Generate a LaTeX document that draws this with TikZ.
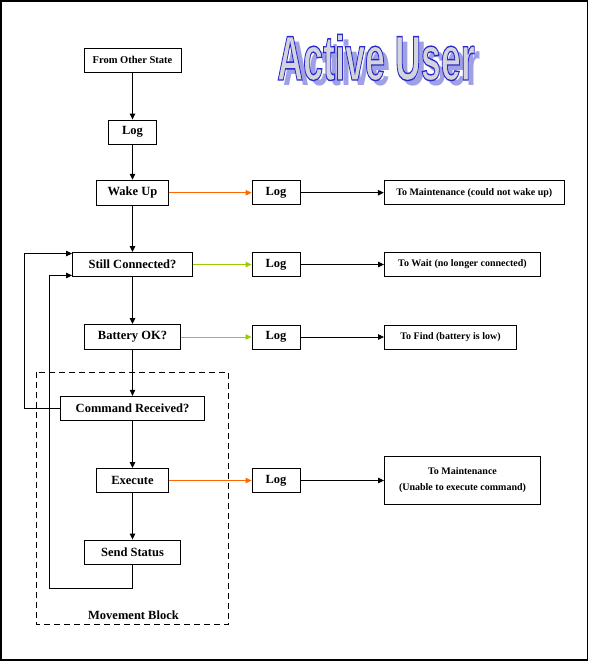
\documentclass[tikz,border=0pt]{standalone}
\usepackage{fontspec}
\setmainfont{Liberation Serif}
\newfontfamily\titlefont{Liberation Sans}
\usetikzlibrary{arrows.meta}
\definecolor{orng}{HTML}{FF6600}
\definecolor{grn}{HTML}{99CC00}
\definecolor{ttlfill}{HTML}{D4D4DC}
\definecolor{ttlshadow}{HTML}{A0A0E4}
\newcommand\ttltext{\titlefont\bfseries\fontsize{63}{63}\selectfont\scalebox{0.57}[1]{Active User}}
\newcommand\ttloutlined{\special{pdf:code q 2 Tr 1.4 w 0.17 0.17 0.8 RG}\ttltext\special{pdf:code Q}}
\begin{document}
\begin{tikzpicture}[x=1pt,y=-1pt,
  box/.style={draw, line width=0.9pt, inner sep=0pt, font=\fontsize{12.5}{14}\selectfont\bfseries},
  sbox/.style={box, font=\fontsize{10}{16}\selectfont\bfseries},
  wh/.style 2 args={minimum width=#1, minimum height=#2},
  arr/.style={line width=0.9pt, -{Triangle[length=6pt,width=5.5pt]}},
  ttl/.style={inner sep=0pt}]
\useasboundingbox (0,0) rectangle (589,662);
\draw[line width=1.2pt] (1,1) rectangle (587.5,660);
\draw[line width=2pt] (1,0) -- (1,661);

% title
\node[ttl, text=ttlshadow] (tshadow) at (382,62.5) {\ttltext};
\node[ttl, text=ttlfill] (title) at (376,57.5) {\ttloutlined};

% movement block
\draw[line width=0.9pt, dash pattern=on 6pt off 4pt] (36,372) rectangle (228.7,624);
\node[inner sep=0pt, font=\fontsize{12.5}{14}\selectfont\bfseries] (mblock) at (133.5,615.5) {Movement Block};

% main column
\node[sbox, wh={97pt}{24pt}, font=\fontsize{10.5}{12}\selectfont\bfseries] (from) at (132.5,60) {From Other State};
\node[box, wh={48pt}{24pt}] (log1) at (132.5,132) {Log};
\node[box, wh={72pt}{25pt}] (wake) at (132.5,192.7) {Wake Up};
\node[box, wh={120pt}{24pt}] (still) at (132.5,264.5) {Still Connected?};
\node[box, wh={96pt}{25pt}] (batt) at (132.5,337) {Battery OK?};
\node[box, wh={144pt}{24pt}] (cmd) at (132.5,408.3) {Command Received?};
\node[box, wh={72pt}{24pt}] (exec) at (132.5,480.5) {Execute};
\node[box, wh={96pt}{24pt}] (send) at (132.5,552) {Send Status};

% log column
\node[box, wh={48pt}{24pt}] (logw) at (276,192.7) {Log};
\node[box, wh={48pt}{24pt}] (logs) at (276,264.5) {Log};
\node[box, wh={48pt}{24pt}] (logb) at (276,337) {Log};
\node[box, wh={48pt}{24pt}] (loge) at (276,480.5) {Log};

% targets
\node[sbox, wh={180pt}{24pt}] (tomw) at (474.3,192.7) {To Maintenance (could not wake up)};
\node[sbox, wh={156pt}{23.5pt}] (towait) at (462.5,264.5) {To Wait (no longer connected)};
\node[sbox, wh={132pt}{24pt}] (tofind) at (450.5,337) {To Find (battery is low)};
\node[sbox, wh={156pt}{48pt}, align=center] (tome) at (462.5,480.5) {To Maintenance\\(Unable to execute command)};

% vertical flow
\draw[arr] (from) -- (log1);
\draw[arr] (log1) -- (wake);
\draw[arr] (wake) -- (still);
\draw[arr] (still) -- (batt);
\draw[arr] (batt) -- (cmd);
\draw[arr] (cmd) -- (exec);
\draw[arr] (exec) -- (send);

% horizontal flow
\draw[arr, orng] (wake) -- (logw);
\draw[arr, grn] (still) -- (logs);
\draw[arr, grn] (batt) -- (logb);
\draw[arr, orng] (exec) -- (loge);
\draw[arr] (logw) -- (tomw);
\draw[arr] (logs) -- (towait);
\draw[arr] (logb) -- (tofind);
\draw[arr] (loge) -- (tome);

% loops
\coordinate (lo) at (24.7,408.3);
\draw[arr] (cmd.west) -- (lo) |- ([yshift=-1.5pt]still.north west);
\coordinate (li) at (49,588);
\draw[arr] (send.south) |- (li) |- ([yshift=1.5pt]still.south west);
\end{tikzpicture}
\end{document}
